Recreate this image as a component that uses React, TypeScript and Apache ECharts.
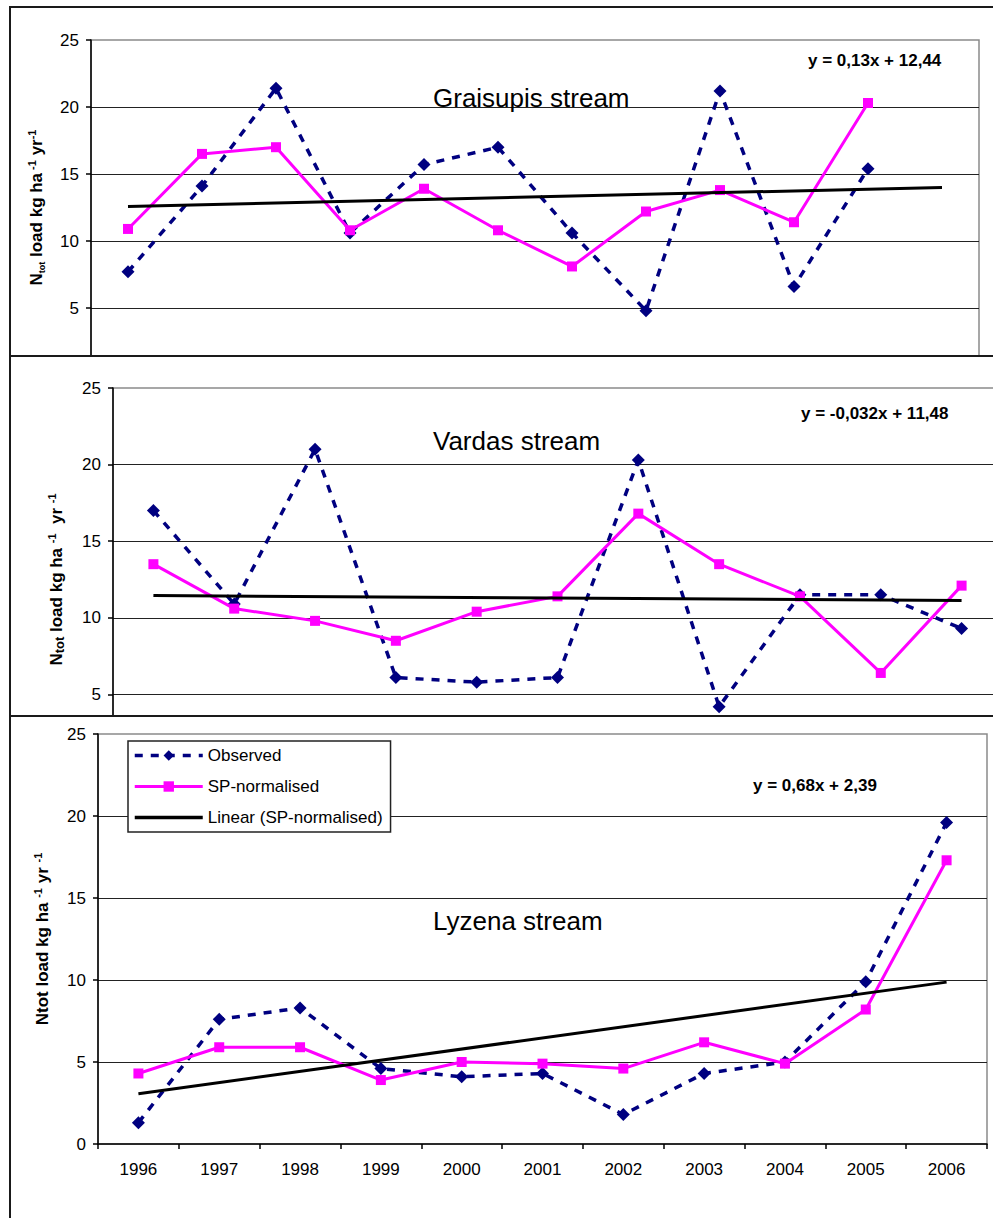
import React, { useEffect, useRef } from "react";
import * as echarts from "echarts";

const FONT = "'Liberation Sans', Arial, Helvetica, sans-serif";

// ---------- data ----------
const years11 = ["1996", "1997", "1998", "1999", "2000", "2001", "2002", "2003", "2004", "2005", "2006"];
const years12 = [...years11, "2007"];

const graisupisObserved = [7.7, 14.1, 21.4, 10.6, 15.7, 17.0, 10.6, 4.8, 21.2, 6.6, 15.4];
const graisupisNormalised = [10.9, 16.5, 17.0, 10.8, 13.9, 10.8, 8.1, 12.2, 13.8, 11.4, 20.3];
const graisupisSlope = 0.13;
const graisupisIntercept = 12.44;

const vardasObserved = [17.0, 10.9, 21.0, 6.1, 5.8, 6.1, 20.3, 4.2, 11.5, 11.5, 9.3];
const vardasNormalised = [13.5, 10.6, 9.8, 8.5, 10.4, 11.4, 16.8, 13.5, 11.4, 6.4, 12.1];
const vardasSlope = -0.032;
const vardasIntercept = 11.48;

const lyzenaObserved = [1.3, 7.6, 8.3, 4.6, 4.1, 4.3, 1.8, 4.3, 5.0, 9.9, 19.6];
const lyzenaNormalised = [4.3, 5.9, 5.9, 3.9, 5.0, 4.9, 4.6, 6.2, 4.9, 8.2, 17.3];
const lyzenaSlope = 0.68;
const lyzenaIntercept = 2.39;

const yMin = 0;
const yMax = 25;
const yStep = 5;

const seriesNames = ["Observed", "SP-normalised", "Linear (SP-normalised)"];

// ---------- option builder ----------
type PanelCfg = {
  cats: string[];
  observed: number[];
  normalised: number[];
  slope: number;
  intercept: number;
  title: string;
  titlePos: { left: number; top: number };
  equation: string;
  eqPos: { left: number; top: number };
  grid: { left: number; top: number; width: number; height: number };
  axisName: string;
  nameGap: number;
  showX: boolean;
  showZero: boolean;
  legend?: { left: number; top: number };
};

const richName = {
  b: { fontSize: 17, fontWeight: "bold", fontFamily: FONT, color: "#000", lineHeight: 20, verticalAlign: "middle" },
  sup: { fontSize: 11, fontWeight: "bold", fontFamily: FONT, color: "#000", lineHeight: 10, verticalAlign: "top" },
  sub: { fontSize: 9, fontWeight: "bold", fontFamily: FONT, color: "#000", lineHeight: 9, verticalAlign: "bottom" },
  small: { fontSize: 13, fontWeight: "bold", fontFamily: FONT, color: "#000", lineHeight: 14, verticalAlign: "bottom" },
};

function makeOption(c: PanelCfg) {
  const n = c.cats.length;
  const trend = c.cats.map((_, i) =>
    i === 0 || i === n - 1 ? +(c.slope * (i + 1) + c.intercept).toFixed(3) : null
  );
  return {
    animation: false,
    backgroundColor: "transparent",
    title: [
      {
        text: c.title,
        left: c.titlePos.left,
        top: c.titlePos.top,
        padding: 0,
        textStyle: { fontSize: 26, fontWeight: "normal", color: "#000", fontFamily: FONT },
      },
      {
        text: c.equation,
        left: c.eqPos.left,
        top: c.eqPos.top,
        padding: 0,
        textStyle: { fontSize: 17, fontWeight: "bold", color: "#000", fontFamily: FONT },
      },
    ],
    legend: c.legend
      ? {
          show: true,
          data: [
            { name: seriesNames[0], lineStyle: { width: 3.5 } },
            { name: seriesNames[1], lineStyle: { width: 3 } },
            { name: seriesNames[2], itemStyle: { opacity: 0 }, lineStyle: { width: 3.5 } },
          ],
          orient: "vertical",
          left: c.legend.left,
          top: c.legend.top,
          padding: [6, 8, 6, 5],
          itemGap: 14,
          itemWidth: 68,
          itemHeight: 13,
          backgroundColor: "#fff",
          borderColor: "#222",
          borderWidth: 1.5,
          borderRadius: 0,
          textStyle: { fontSize: 17, color: "#000", fontFamily: FONT },
        }
      : { show: false },
    grid: {
      left: c.grid.left,
      top: c.grid.top,
      width: c.grid.width,
      height: c.grid.height,
      show: true,
      borderColor: "#8a8a8a",
      borderWidth: 1.5,
      containLabel: false,
    },
    xAxis: {
      type: "category",
      data: c.cats,
      boundaryGap: true,
      axisLine: { show: true, lineStyle: { color: "#000", width: 1.5 } },
      axisTick: { show: c.showX, length: 5, alignWithLabel: false, lineStyle: { color: "#000", width: 1.5 } },
      axisLabel: { show: c.showX, fontSize: 17, color: "#000", fontFamily: FONT, margin: 17 },
      splitLine: { show: false },
    },
    yAxis: {
      type: "value",
      min: yMin,
      max: yMax,
      interval: yStep,
      name: c.axisName,
      nameLocation: "middle",
      nameRotate: 90,
      nameGap: c.nameGap,
      nameTextStyle: { rich: richName },
      axisLine: { show: true, lineStyle: { color: "#000", width: 1.5 } },
      axisTick: { show: true, length: 5, lineStyle: { color: "#000", width: 1.5 } },
      axisLabel: {
        fontSize: 17,
        color: "#000",
        fontFamily: FONT,
        margin: 12,
        formatter: (v: number) => (v === 0 && !c.showZero ? "" : String(v)),
      },
      splitLine: { show: true, showMaxLine: false, showMinLine: false, lineStyle: { color: "#222", width: 1 } },
    },
    series: [
      {
        name: seriesNames[0],
        type: "line",
        data: c.observed,
        symbol: "diamond",
        symbolSize: 13,
        itemStyle: { color: "#000080" },
        lineStyle: { color: "#000080", width: 3.5, type: [8, 8] },
        z: 2,
      },
      {
        name: seriesNames[1],
        type: "line",
        data: c.normalised,
        symbol: "rect",
        symbolSize: 10,
        itemStyle: { color: "#ff00ff" },
        lineStyle: { color: "#ff00ff", width: 3 },
        z: 3,
      },
      {
        name: seriesNames[2],
        type: "line",
        data: trend,
        connectNulls: true,
        symbol: "none",
        itemStyle: { color: "#000" },
        lineStyle: { color: "#000", width: 3 },
        z: 4,
      },
    ],
  };
}

const optGraisupis = makeOption({
  cats: years12,
  observed: graisupisObserved,
  normalised: graisupisNormalised,
  slope: graisupisSlope,
  intercept: graisupisIntercept,
  title: "Graisupis stream",
  titlePos: { left: 422, top: 77 },
  equation: "y = 0,13x + 12,44",
  eqPos: { left: 797, top: 44 },
  grid: { left: 80, top: 32, width: 888, height: 335 },
  axisName: "{b|N}{sub|tot}{b| load kg ha}{sup| -1}{b| yr}{sup|-1}",
  nameGap: 45,
  showX: false,
  showZero: false,
});

const optVardas = makeOption({
  cats: years11,
  observed: vardasObserved,
  normalised: vardasNormalised,
  slope: vardasSlope,
  intercept: vardasIntercept,
  title: "Vardas stream",
  titlePos: { left: 422, top: 71 },
  equation: "y = -0,032x + 11,48",
  eqPos: { left: 790, top: 48 },
  grid: { left: 102, top: 31, width: 889, height: 383 },
  axisName: "{b|N}{small|tot}{b| load kg ha }{sup|-1}{b|  yr }{sup|-1}",
  nameGap: 47,
  showX: false,
  showZero: false,
});

const optLyzena = makeOption({
  cats: years11,
  observed: lyzenaObserved,
  normalised: lyzenaNormalised,
  slope: lyzenaSlope,
  intercept: lyzenaIntercept,
  title: "Lyzena stream",
  titlePos: { left: 422, top: 191 },
  equation: "y = 0,68x + 2,39",
  eqPos: { left: 742, top: 60 },
  grid: { left: 87, top: 17, width: 889, height: 410 },
  axisName: "{b|Ntot load kg ha }{sup|-1}{b| yr }{sup|-1}",
  nameGap: 46,
  showX: true,
  showZero: true,
  legend: { left: 117, top: 24 },
});

// ---------- components ----------
type Box = { left: number; top: number; width: number; height: number };

function ChartPanel({ option, box, chartW, chartH }: { option: any; box: Box; chartW: number; chartH: number }) {
  const ref = useRef<HTMLDivElement>(null);
  useEffect(() => {
    if (!ref.current) return;
    const chart = echarts.init(ref.current, null, { renderer: "svg" });
    chart.setOption(option);
    return () => chart.dispose();
  }, [option]);
  return (
    <div
      style={{
        position: "absolute",
        left: box.left,
        top: box.top,
        width: box.width,
        height: box.height,
        border: "2px solid #1a1a1a",
        boxSizing: "border-box",
        overflow: "hidden",
        background: "#fff",
      }}
    >
      <div ref={ref} style={{ position: "absolute", left: 0, top: 0, width: chartW, height: chartH }} />
    </div>
  );
}

export default function App() {
  return (
    <div
      style={{
        position: "absolute",
        left: 0,
        top: 0,
        width: 993,
        height: 1218,
        overflow: "hidden",
        background: "#fff",
      }}
    >
      <ChartPanel option={optGraisupis} box={{ left: 9, top: 6, width: 1100, height: 351 }} chartW={1000} chartH={420} />
      <ChartPanel option={optVardas} box={{ left: 9, top: 355, width: 1100, height: 362 }} chartW={1000} chartH={460} />
      <ChartPanel option={optLyzena} box={{ left: 9, top: 715, width: 1100, height: 600 }} chartW={1000} chartH={540} />
    </div>
  );
}
